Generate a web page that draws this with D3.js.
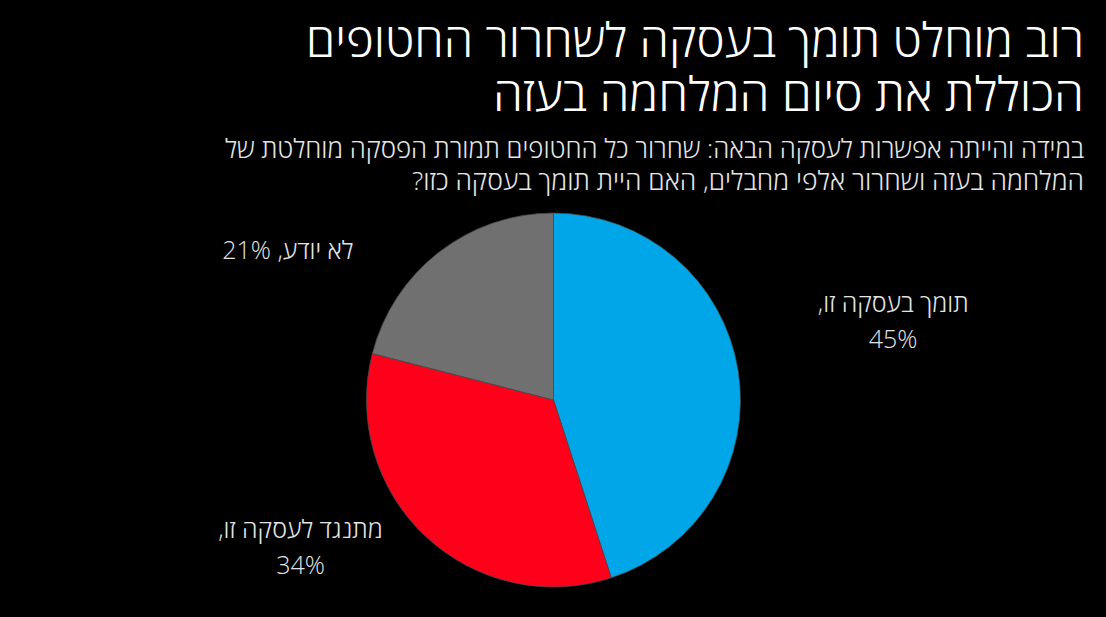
<!DOCTYPE html>
<html lang="he" dir="rtl">
<head>
<meta charset="utf-8">
<script src="https://cdn.jsdelivr.net/npm/d3@7"></script>
<style>
  html, body { margin: 0; padding: 0; background: #000; }
  svg { display: block; font-family: "Open Sans", "DejaVu Sans", sans-serif; }
</style>
</head>
<body>
<svg id="chart"></svg>
<script>
// data
let categories = ['תומך בעסקה זו,', 'מתנגד לעסקה זו,', 'לא יודע,'];
let values = [45, 34, 21];
let colors = ['#00a6e8', '#ff001b', '#707070'];
let titleLines = ['רוב מוחלט תומך בעסקה לשחרור החטופים', 'הכוללת את סיום המלחמה בעזה'];
let subtitleLines = ['במידה והייתה אפשרות לעסקה הבאה: שחרור כל החטופים תמורת הפסקה מוחלטת של', 'המלחמה בעזה ושחרור אלפי  מחבלים, האם היית תומך בעסקה כזו?'];

let w = 1106;
let h = 617;
let cx = 553.5;
let cy = 400;
let r = 187;
let rightEdge = 1084;

let svg = d3.select('#chart')
  .attr('width', w)
  .attr('height', h);

svg.append('rect')
  .attr('width', w)
  .attr('height', h)
  .attr('fill', '#000');

// title (widths taken from the picture so the lines end where they should)
let titleWidths = [778, 591];
svg.selectAll('.title')
  .data(titleLines)
  .enter()
  .append('text')
  .attr('class', 'title')
  .attr('x', rightEdge)
  .attr('y', (d, i) => 57 + i * 54)
  .attr('text-anchor', 'start')
  .attr('direction', 'rtl')
  .attr('fill', '#ffffff')
  .attr('font-size', 47)
  .attr('font-weight', 300)
  .attr('textLength', (d, i) => titleWidths[i])
  .attr('lengthAdjust', 'spacingAndGlyphs')
  .text(d => d);

// subtitle
let subtitleWidths = [859, 672];
svg.selectAll('.subtitle')
  .data(subtitleLines)
  .enter()
  .append('text')
  .attr('class', 'subtitle')
  .attr('x', rightEdge)
  .attr('y', (d, i) => 158 + i * 32)
  .attr('text-anchor', 'start')
  .attr('direction', 'rtl')
  .attr('fill', '#e4e4e4')
  .attr('font-size', 26)
  .attr('font-weight', 300)
  .attr('textLength', (d, i) => subtitleWidths[i])
  .attr('lengthAdjust', 'spacingAndGlyphs')
  .text(d => d);

// pie
let pie = d3.pie().sort(null).value(d => d);
let arc = d3.arc().innerRadius(0).outerRadius(r);
let arcs = pie(values);

let g = svg.append('g')
  .attr('transform', 'translate(' + cx + ',' + cy + ')');

g.selectAll('path')
  .data(arcs)
  .enter()
  .append('path')
  .attr('d', arc)
  .attr('fill', (d, i) => colors[i])
  .attr('stroke', '#4a4a4a')
  .attr('stroke-width', 0.8);

// labels: start at the slice's rim midpoint, then shift out to where the picture has them
let labelShift = [[155, -59, 2], [-125, 2, 2], [-151, 7, 1]];

arcs.forEach((d, i) => {
  let mid = (d.startAngle + d.endAngle) / 2;
  let x = cx + Math.sin(mid) * r + labelShift[i][0];
  let y = cy - Math.cos(mid) * r + labelShift[i][1];
  let t = svg.append('text')
    .attr('text-anchor', 'middle')
    .attr('direction', 'rtl')
    .attr('fill', '#e4e4e4')
    .attr('font-size', 25)
    .attr('font-weight', 300);
  if (labelShift[i][2] === 2) {
    t.append('tspan').attr('x', x).attr('y', y).text(categories[i]);
    t.append('tspan').attr('x', x).attr('y', y + 36).attr('direction', 'ltr').text(values[i] + '%');
  } else {
    t.attr('x', x).attr('y', y).text(categories[i] + ' ' + values[i] + '%');
  }
});
</script>
</body>
</html>
